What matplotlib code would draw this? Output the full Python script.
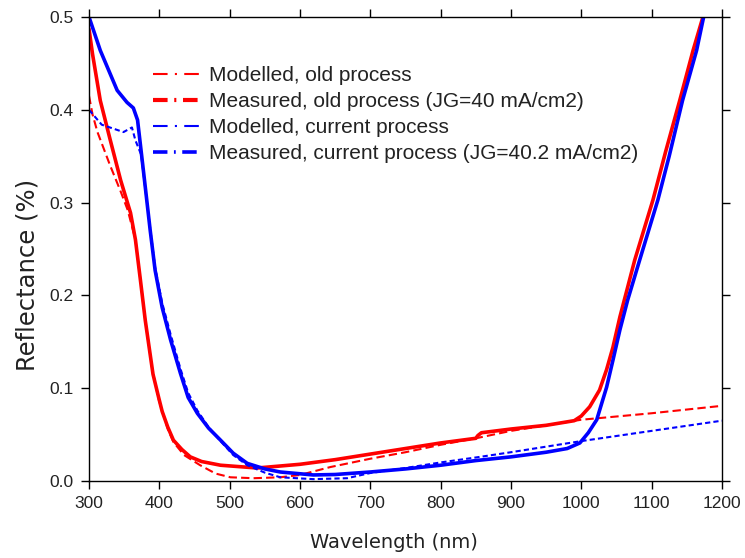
import matplotlib
matplotlib.use("Agg")
import matplotlib.pyplot as plt
from matplotlib.lines import Line2D

plt.rcParams['font.family'] = ['Liberation Sans', 'DejaVu Sans']

# Measured, old process
old_meas_wl = [300, 305, 316, 330, 345, 359, 366, 373, 380, 391, 399, 404, 412, 420, 432, 444,
               460, 487, 539, 600, 650, 700, 750, 800, 850, 853, 858, 900, 950, 990, 1000,
               1012, 1026, 1036, 1045, 1055, 1065, 1076, 1102, 1120, 1140, 1159, 1173]
old_meas_R = [0.487, 0.46, 0.41, 0.368, 0.324, 0.289, 0.26, 0.217, 0.173, 0.115, 0.09, 0.075,
              0.058, 0.044, 0.034, 0.026, 0.021, 0.017, 0.014, 0.018, 0.023, 0.029, 0.035,
              0.041, 0.046, 0.049, 0.052, 0.056, 0.060, 0.065, 0.070, 0.080, 0.098, 0.12,
              0.144, 0.177, 0.206, 0.238, 0.303, 0.355, 0.41, 0.464, 0.5]

# Modelled, old process
old_mod_wl = [300, 305, 312, 330, 345, 355, 366, 373, 380, 390, 399, 412, 420, 435, 458, 480,
              501, 534, 572, 600, 643, 700, 750, 800, 850, 900, 950, 1000, 1100, 1200]
old_mod_R = [0.415, 0.395, 0.376, 0.34, 0.312, 0.292, 0.26, 0.217, 0.173, 0.12, 0.088, 0.056,
             0.042, 0.028, 0.017, 0.008, 0.004, 0.003, 0.004, 0.0065, 0.015, 0.024, 0.031,
             0.039, 0.046, 0.054, 0.060, 0.066, 0.073, 0.081]

# Measured, current process
cur_meas_wl = [300, 316, 340, 354, 363, 369, 378, 387, 394, 404, 416, 430, 441, 454, 470, 487,
               505, 525, 550, 572, 619, 650, 700, 750, 800, 850, 900, 950, 980, 998, 1010,
               1022, 1036, 1045, 1055, 1066, 1083, 1109, 1125, 1144, 1164, 1174]
cur_meas_R = [0.5, 0.464, 0.421, 0.408, 0.402, 0.389, 0.33, 0.27, 0.227, 0.187, 0.152, 0.116,
              0.09, 0.073, 0.057, 0.044, 0.03, 0.019, 0.013, 0.0097, 0.0065, 0.007, 0.0097,
              0.013, 0.017, 0.022, 0.026, 0.031, 0.035, 0.041, 0.052, 0.066, 0.101, 0.130,
              0.163, 0.195, 0.238, 0.303, 0.35, 0.41, 0.464, 0.5]

# Modelled, current process
cur_mod_wl = [300, 318, 349, 361, 366, 374, 387, 394, 404, 416, 430, 441, 454, 470, 487, 505,
              525, 550, 572, 619, 667, 700, 750, 800, 856, 900, 1000, 1100, 1200]
cur_mod_R = [0.40, 0.384, 0.376, 0.381, 0.367, 0.352, 0.272, 0.23, 0.192, 0.158, 0.121, 0.095,
             0.076, 0.058, 0.043, 0.028, 0.017, 0.009, 0.004, 0.002, 0.003, 0.0086, 0.014,
             0.020, 0.026, 0.031, 0.043, 0.054, 0.065]

labels = ["Modelled, old process",
          "Measured, old process (JG=40 mA/cm2)",
          "Modelled, current process",
          "Measured, current process (JG=40.2 mA/cm2)"]

RED = '#FF0000'
BLUE = '#0000FF'
TXT = '#222222'

fig = plt.figure(figsize=(7.45, 5.58), dpi=100)
ax = fig.add_axes([0.1195, 0.138, 0.8495, 0.8315])

ax.plot(old_mod_wl, old_mod_R, color=RED, lw=1.5, ls=(0, (4, 2)))
ax.plot(old_meas_wl, old_meas_R, color=RED, lw=2.6, solid_capstyle='round',
        solid_joinstyle='round')
ax.plot(cur_mod_wl, cur_mod_R, color=BLUE, lw=1.5, ls=(0, (2.5, 1.5)))
ax.plot(cur_meas_wl, cur_meas_R, color=BLUE, lw=2.6, solid_capstyle='round',
        solid_joinstyle='round')

ax.set_xlim(300, 1200)
ax.set_ylim(0, 0.5)
ax.set_xticks(range(300, 1201, 100))
ax.set_yticks([0.0, 0.1, 0.2, 0.3, 0.4, 0.5])
ax.set_yticklabels(['0.0', '0.1', '0.2', '0.3', '0.4', '0.5'])
ax.tick_params(direction='out', length=6, width=1, top=True, right=True,
               labelsize=12.5, colors='black', labelcolor=TXT, pad=5)
for s in ax.spines.values():
    s.set_linewidth(1.0)

ax.set_xlabel("Wavelength (nm)", fontsize=14, color=TXT, family='DejaVu Sans')
ax.set_ylabel("Reflectance (%)", fontsize=17.5, color=TXT, family='DejaVu Sans')
ax.xaxis.set_label_coords(0.482, -0.112)
ax.yaxis.set_label_coords(-0.078, 0.444)

handles = [
    Line2D([], [], color=RED, lw=1.5, ls=(0, (7, 3.5, 1, 3.5))),
    Line2D([], [], color=RED, lw=3.0, ls=(0, (3.5, 1.6, 0.5, 1.6))),
    Line2D([], [], color=BLUE, lw=1.5, ls=(0, (7, 3.5, 1, 3.5))),
    Line2D([], [], color=BLUE, lw=2.6, ls=(0, (4, 1.8, 0.5, 1.8))),
]
leg = ax.legend(handles, labels, loc='upper left', bbox_to_anchor=(0.088, 0.912),
                frameon=False, fontsize=15, handlelength=2.4, handletextpad=0.3,
                labelspacing=0.33, borderaxespad=0)
for t in leg.get_texts():
    t.set_color(TXT)

fig.savefig("out.png", dpi=100)
